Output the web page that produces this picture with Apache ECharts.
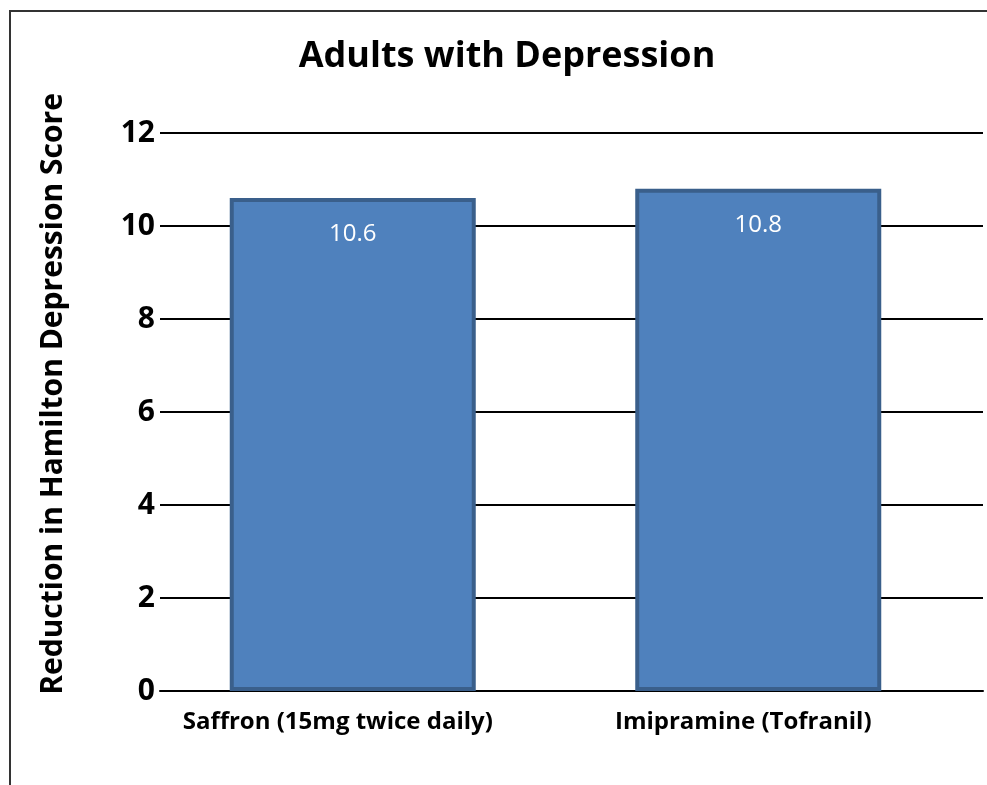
<!DOCTYPE html>
<html>
<head>
<meta charset="utf-8">
<script src="https://cdn.jsdelivr.net/npm/echarts@6/dist/echarts.min.js"></script>
<style>
  html, body { margin: 0; padding: 0; background: #fff; }
  #chart { width: 987px; height: 785px; }
</style>
</head>
<body>
<div id="chart"></div>
<script>
// Treatment groups and mean reduction in Hamilton Depression score
const categories = ['Saffron (15mg twice daily)', 'Imipramine (Tofranil)'];
const reductions = [10.6, 10.8];
const yTicks = { min: 0, max: 12, interval: 2 };

const chart = echarts.init(document.getElementById('chart'));
const font = '"Open Sans", "Noto Sans", sans-serif';

chart.setOption({
  backgroundColor: '#ffffff',
  animation: false,
  graphic: [{
    type: 'rect',
    shape: { x: 10, y: 11, width: 1000, height: 800 },
    style: { fill: 'none', stroke: '#333', lineWidth: 2 },
    silent: true
  }],
  title: {
    text: 'Adults with Depression',
    left: 502,
    textAlign: 'center',
    top: 34,
    textStyle: { fontFamily: font, fontSize: 36, fontWeight: 'bold', color: '#000' }
  },
  // grid 0 holds the bars, grid 1 holds the value scale and its rules
  grid: [
    { left: 150, right: 26, top: 133, bottom: 94 },
    { left: 160, right: 4, top: 133, bottom: 94 }
  ],
  xAxis: [{
    gridIndex: 0,
    type: 'category',
    data: categories,
    axisLine: { show: false },
    axisTick: { show: false },
    axisLabel: {
      fontFamily: font, fontSize: 24, fontWeight: 'bold', color: '#000',
      margin: 19, padding: [0, 30, 0, 0]
    }
  }, {
    gridIndex: 1,
    type: 'category',
    data: categories,
    axisLine: { show: true, lineStyle: { color: '#000', width: 2 } },
    axisTick: { show: false },
    axisLabel: { show: false }
  }],
  yAxis: [{
    gridIndex: 0,
    type: 'value',
    min: yTicks.min,
    max: yTicks.max,
    interval: yTicks.interval,
    axisLine: { show: false },
    axisTick: { show: false },
    axisLabel: { show: false },
    splitLine: { show: false }
  }, {
    gridIndex: 1,
    type: 'value',
    min: yTicks.min,
    max: yTicks.max,
    interval: yTicks.interval,
    name: 'Reduction in Hamilton Depression Score',
    nameLocation: 'middle',
    nameGap: 92,
    nameTextStyle: {
      fontFamily: font, fontSize: 30, fontWeight: 'bold', color: '#000',
      padding: [0, 0, 0, 36]
    },
    axisLine: { show: false },
    axisTick: { show: false },
    axisLabel: { fontFamily: font, fontSize: 30, fontWeight: 'bold', color: '#000', margin: 5 },
    splitLine: { lineStyle: { color: '#000', width: 2 } }
  }],
  series: [{
    type: 'bar',
    xAxisIndex: 0,
    yAxisIndex: 0,
    data: reductions,
    barWidth: 246,
    z: 3,
    itemStyle: { color: '#4F81BD', borderColor: '#3A5F8B', borderWidth: 4 },
    label: {
      show: true,
      position: 'insideTop',
      distance: 24,
      color: '#fff',
      fontFamily: font,
      fontSize: 24
    }
  }]
});
</script>
</body>
</html>
